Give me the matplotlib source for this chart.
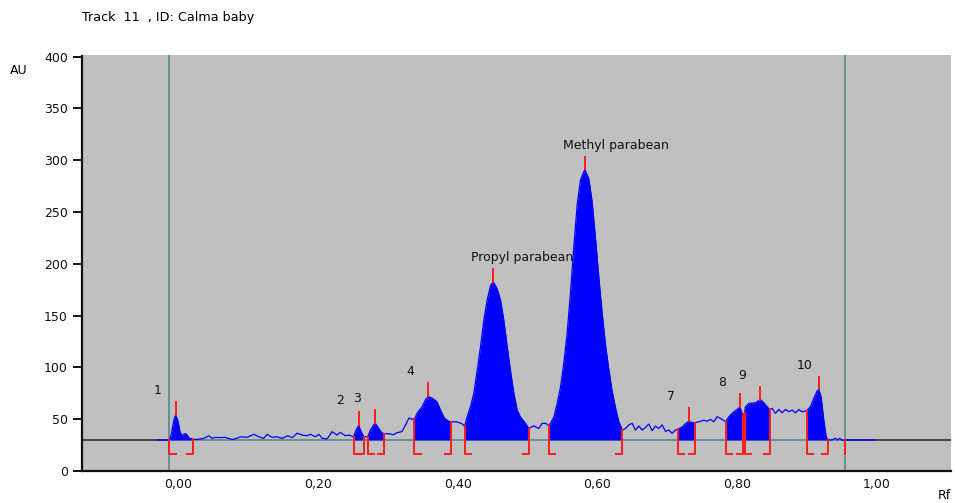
import numpy as np
import matplotlib
matplotlib.use("Agg")
import matplotlib.pyplot as plt
from matplotlib.ticker import FuncFormatter

# Densitogram trace of track 11 (Rf, AU)
rf = [
    -0.029, -0.013, -0.0105, -0.0067, -0.0043, -0.001, 0.002, 0.005, 0.0086, 0.0115, 0.0148, 0.021,
    0.027, 0.036, 0.0435, 0.048, 0.053, 0.060, 0.067, 0.0745, 0.079, 0.089, 0.098, 0.108, 0.115,
    0.122, 0.127, 0.134, 0.141, 0.1486, 0.156, 0.163, 0.170, 0.177, 0.184, 0.189, 0.196, 0.201,
    0.206, 0.213, 0.220, 0.227, 0.232, 0.239, 0.244,
    0.251, 0.2535, 0.258, 0.261, 0.2645, 0.266,
    0.271, 0.275, 0.280, 0.282, 0.287, 0.291, 0.295,
    0.301, 0.308, 0.313, 0.320, 0.325, 0.330, 0.335,
    0.338, 0.342, 0.349, 0.354, 0.358, 0.364, 0.370, 0.376, 0.381, 0.387, 0.391,
    0.398, 0.405,
    0.410, 0.4136, 0.4183, 0.4231, 0.4279, 0.4327, 0.4374, 0.4422, 0.447, 0.4508, 0.4565, 0.4613,
    0.4661, 0.4709, 0.4756, 0.4804, 0.4852, 0.490, 0.4971, 0.502,
    0.509, 0.516, 0.521, 0.526,
    0.531, 0.5377, 0.5425, 0.5473, 0.552, 0.5568, 0.5616, 0.5664, 0.5712, 0.576, 0.5821, 0.5878,
    0.5926, 0.5974, 0.6022, 0.607, 0.6117, 0.6165, 0.6213, 0.6261, 0.6309, 0.636,
    0.6404, 0.6452, 0.650, 0.6547, 0.6595, 0.6643, 0.669, 0.6738, 0.6786, 0.6834, 0.6882, 0.6929,
    0.6977, 0.7025, 0.7073, 0.712,
    0.715, 0.7216, 0.7278, 0.7311, 0.7359, 0.740,
    0.7454, 0.7526, 0.7574, 0.7622, 0.767, 0.7717, 0.7765,
    0.784, 0.7884, 0.7956, 0.8004, 0.8042, 0.8075, 0.809,
    0.811, 0.8123, 0.8171, 0.8266, 0.8338, 0.8386, 0.8433, 0.847,
    0.8505, 0.8553, 0.8601, 0.8648, 0.8696, 0.8744, 0.8792, 0.884, 0.8887, 0.8935,
    0.900, 0.9054, 0.9102, 0.915, 0.9174, 0.9207, 0.9245, 0.9279, 0.931,
    0.9365, 0.9413, 0.9446, 0.9475, 0.9508, 0.955, 0.997,
]
au = [
    30, 30, 35, 49, 54, 49, 38, 34, 36, 35.5, 32, 30.5,
    30.5, 31.5, 34, 31.5, 32.5, 32.2, 32.5, 30.8, 30.5, 33, 32.5, 35.4, 33,
    31.5, 35.4, 32.5, 33, 31.5, 34, 32.2, 36.5, 34.7, 34, 35.4, 33, 35.4,
    31.5, 31, 38, 34.7, 37.3, 34, 34.7,
    33, 38, 44, 39, 34, 33,
    33, 39.5, 45, 46, 41, 37, 36,
    36, 35, 37, 38, 44, 51, 50,
    50, 56, 62, 69, 72, 70, 67, 58, 51, 48, 47.5,
    47.5, 46,
    43.5, 52.4, 62, 75, 97, 120, 145.5, 165, 179, 182.5, 176, 165,
    145.5, 120, 97, 75, 59, 52, 46, 41,
    43.6, 41, 46, 46,
    43.6, 52, 65, 81, 104, 133, 172, 217, 257, 281, 291, 282,
    260, 225, 187, 152, 122, 98, 77, 61, 47.5, 39.5,
    41, 44.6, 46, 39.5, 43.4, 39.5, 42, 45.3, 38.9, 43.4, 41, 44.6,
    38.3, 39.5, 36.4, 39.5,
    40.2, 42.6, 46.5, 48, 46.7, 46.7,
    47.5, 49, 48, 49.8, 47.5, 52.4, 50.8,
    47.5, 52.4, 57.2, 59.4, 62, 55.6, 55,
    56, 62, 65.2, 65.9, 69, 65.9, 62, 59.4,
    60.4, 55.6, 59.4, 56.2, 59.4, 57.2, 58.8, 56.2, 59.4, 57.2,
    58.2, 62, 70, 77.4, 78.7, 71.6, 49.2, 33.2, 30,
    30, 31.6, 30, 31.6, 29.6, 30, 30,
]

# Integrated peaks: labels and Rf start / end of each integration window
peak_names = ["1", "2", "3", "4", "Propyl parabean", "Methyl parabean", "7", "8", "9", "10"]
peak_start = [-0.013, 0.251, 0.271, 0.338, 0.410, 0.531, 0.715, 0.784, 0.811, 0.900]
peak_end = [0.021, 0.266, 0.295, 0.391, 0.502, 0.636, 0.740, 0.809, 0.847, 0.931]

baseline_au = 30
track_start, track_end = -0.013, 0.955

x = np.array(rf)
y = np.array(au)

BG = "#C0C0C0"
BLUE = "#0000FF"
RED = "#FF1A1A"
TEAL = "#4E8C8C"
FONT = "DejaVu Sans"
FS = 9.0

fig = plt.figure(figsize=(9.55, 5.03), dpi=100)
ax = fig.add_axes([82 / 955, 32 / 503, 869 / 955, 415.5 / 503])
ax.set_facecolor(BG)
ax.set_xlim(-0.1383, 1.1068)
ax.set_ylim(0, 401)

# baseline: dark outside the track window, teal inside it
ax.axhline(baseline_au, color="#3A3A3A", lw=1.3, zorder=1)
ax.plot([track_start, track_end], [baseline_au, baseline_au], color="#6A9C9C", lw=1.3, zorder=2)
ax.axvline(track_start, color=TEAL, lw=1.2, zorder=2)
ax.axvline(track_end, color=TEAL, lw=1.2, zorder=2)

# trace
ax.plot(x, y, color=BLUE, lw=0.9, zorder=3)

foot = 0.0088
bracket_low = 16.5
tick_len = 12.5
for name, s, e in zip(peak_names, peak_start, peak_end):
    m = (x >= s - 1e-9) & (x <= e + 1e-9)
    ax.fill_between(x[m], baseline_au, y[m], color=BLUE, lw=0, zorder=3)
    ys = y[np.argmin(np.abs(x - s))]
    ye = y[np.argmin(np.abs(x - e))]
    ax.plot([s + foot, s, s], [bracket_low, bracket_low, ys], color=RED, lw=1.4, zorder=4)
    ax.plot([e - foot, e, e], [bracket_low, bracket_low, ye], color=RED, lw=1.4, zorder=4)
    i = np.argmax(np.where(m, y, -np.inf))
    top = y[i] + tick_len
    ax.plot([x[i], x[i]], [y[i], top], color=RED, lw=1.4, zorder=4)
    ax.annotate(name, xy=(x[i], top), xytext=(-22, 8), textcoords="offset pixels",
                ha="left", va="baseline", fontsize=FS, family=FONT, color="#111111")

# end-of-track marker
ax.plot([track_end, track_end], [bracket_low, baseline_au], color=RED, lw=1.4, zorder=4)

# axes styling
for side in ("top", "right"):
    ax.spines[side].set_visible(False)
for side in ("left", "bottom"):
    ax.spines[side].set_color("#111111")
    ax.spines[side].set_linewidth(1.6)
ax.set_xticks([0.0, 0.2, 0.4, 0.6, 0.8, 1.0])
ax.set_yticks([0, 50, 100, 150, 200, 250, 300, 350, 400])
ax.xaxis.set_major_formatter(FuncFormatter(lambda v, p: f"{v:.2f}".replace(".", ",")))
ax.tick_params(axis="x", length=0, pad=5, labelsize=FS, labelcolor="#111111")
ax.tick_params(axis="y", length=6.5, width=1.4, pad=3.6, labelsize=FS, labelcolor="#111111",
               color="#111111")
for lab in ax.get_xticklabels() + ax.get_yticklabels():
    lab.set_family(FONT)

fig.text(10 / 955, 1 - 71 / 503, "AU", ha="left", va="center", fontsize=FS, family=FONT)
fig.text(938 / 955, 1 - 502 / 503, "Rf", ha="left", va="bottom", fontsize=FS, family=FONT)
fig.text(82 / 955, 1 - 18 / 503, "Track  11  , ID: Calma baby", ha="left", va="center",
         fontsize=9.2, family=FONT)

fig.savefig("out.png", dpi=100, facecolor="white")
